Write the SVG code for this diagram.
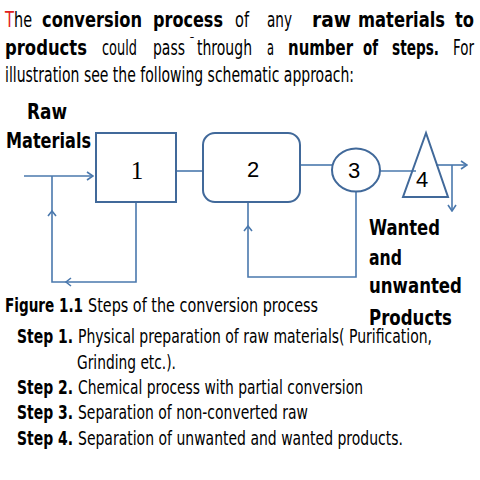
<svg xmlns="http://www.w3.org/2000/svg" width="480" height="480" viewBox="0 0 480 480">
<style>
text{font-family:"DejaVu Sans","Liberation Sans",sans-serif;fill:#000}
.t{font-size:21px}
.b{font-weight:bold}
.s{font-size:19.5px}
.lbl{font-size:21px;font-weight:bold}
.num{font-family:"Liberation Sans",sans-serif;font-size:22px;text-anchor:middle}
.shape{fill:none;stroke:#41699a;stroke-width:2}
.con{fill:none;stroke:#4a78ad;stroke-width:1.6}
</style>
<defs>
<marker id="ah" markerWidth="8" markerHeight="10" refX="7" refY="5" orient="auto" markerUnits="userSpaceOnUse">
<path d="M1,1 L7,5 L1,9" fill="none" stroke="#4a78ad" stroke-width="1.6"/>
</marker>
</defs>
<rect width="480" height="480" fill="#fff"/>

<!-- intro paragraph -->
<text class="t" x="5" y="27" fill="#e02020" style="fill:#e02020" textLength="9" lengthAdjust="spacingAndGlyphs">T</text>
<text class="t" x="14" y="27" textLength="18" lengthAdjust="spacingAndGlyphs">he</text>
<text class="t b" x="42" y="27" textLength="100" lengthAdjust="spacingAndGlyphs">conversion</text>
<text class="t b" x="153" y="27" textLength="70" lengthAdjust="spacingAndGlyphs">process</text>
<text class="t" x="235" y="27" textLength="14" lengthAdjust="spacingAndGlyphs">of</text>
<text class="t" x="267" y="27" textLength="25" lengthAdjust="spacingAndGlyphs">any</text>
<text class="t b" x="312" y="27" textLength="39" lengthAdjust="spacingAndGlyphs">raw</text>
<text class="t b" x="358" y="27" textLength="87" lengthAdjust="spacingAndGlyphs">materials</text>
<text class="t b" x="455" y="27" textLength="19" lengthAdjust="spacingAndGlyphs">to</text>

<text class="t b" x="5" y="55" textLength="82" lengthAdjust="spacingAndGlyphs">products</text>
<text class="t" x="102" y="55" textLength="35" lengthAdjust="spacingAndGlyphs">could</text>
<text class="t" x="153" y="55" textLength="32" lengthAdjust="spacingAndGlyphs">pass</text>
<text class="t" x="189" y="46" style="font-size:12px">¯</text>
<text class="t" x="197" y="55" textLength="55" lengthAdjust="spacingAndGlyphs">through</text>
<text class="t" x="267" y="55" textLength="7" lengthAdjust="spacingAndGlyphs">a</text>
<text class="t b" x="288" y="55" textLength="65" lengthAdjust="spacingAndGlyphs">number</text>
<text class="t b" x="363" y="55" textLength="15" lengthAdjust="spacingAndGlyphs">of</text>
<text class="t b" x="392" y="55" textLength="47" lengthAdjust="spacingAndGlyphs">steps.</text>
<text class="t" x="453" y="55" textLength="21" lengthAdjust="spacingAndGlyphs">For</text>

<text class="t" x="5" y="82" textLength="349" lengthAdjust="spacingAndGlyphs">illustration see the following schematic approach:</text>

<!-- labels -->
<text class="lbl" x="27" y="119" textLength="40" lengthAdjust="spacingAndGlyphs">Raw</text>
<text class="lbl" x="6" y="148" textLength="85" lengthAdjust="spacingAndGlyphs">Materials</text>
<text class="lbl" x="369" y="235" textLength="71" lengthAdjust="spacingAndGlyphs">Wanted</text>
<text class="lbl" x="369" y="265" textLength="33" lengthAdjust="spacingAndGlyphs">and</text>
<text class="lbl" x="369" y="293" textLength="93" lengthAdjust="spacingAndGlyphs">unwanted</text>
<text class="lbl" x="369" y="325" textLength="83" lengthAdjust="spacingAndGlyphs">Products</text>

<!-- connectors -->
<g id="connectors">
<line class="con" x1="24" y1="176" x2="93" y2="176" marker-end="url(#ah)"/>
<polyline class="con" points="136,202 136,282 52,282 52,176"/>
<path class="con" d="M71,278 L66,282 L71,286"/>
<path class="con" d="M48,216 L52,211 L56,216"/>
<line class="con" x1="176" y1="171" x2="203" y2="171"/>
<line class="con" x1="300" y1="165" x2="332" y2="165"/>
<polyline class="con" points="356,192 356,277 248,277 248,202"/>
<path class="con" d="M244,231 L248,226 L252,231"/>
<line class="con" x1="380" y1="171" x2="416" y2="171"/>
<line class="con" x1="436" y1="165" x2="467" y2="165" marker-end="url(#ah)"/>
<line class="con" x1="452" y1="165" x2="452" y2="211" marker-end="url(#ah)"/>
</g>

<!-- nodes -->
<g id="node1">
<rect class="shape" x="96" y="133" width="80" height="69"/>
<text class="num" x="137" y="179" style="font-family:'Liberation Serif',serif;font-size:25px">1</text>
</g>
<g id="node2">
<rect class="shape" x="203" y="133" width="97" height="69" rx="12" ry="12"/>
<text class="num" x="253" y="177">2</text>
</g>
<g id="node3">
<ellipse class="shape" cx="356" cy="170" rx="24" ry="21.5"/>
<text class="num" x="354" y="178">3</text>
</g>
<g id="node4">
<polygon class="shape" points="426,133 403,197 448,197"/>
<text class="num" x="422" y="187">4</text>
</g>

<!-- caption and steps -->
<text class="s b" x="5" y="312" textLength="78" lengthAdjust="spacingAndGlyphs">Figure 1.1</text>
<text class="s" x="88" y="312" textLength="230" lengthAdjust="spacingAndGlyphs">Steps of  the conversion process</text>

<text class="s b" x="17" y="343" textLength="56" lengthAdjust="spacingAndGlyphs">Step 1.</text>
<text class="s" x="78" y="343" textLength="354" lengthAdjust="spacingAndGlyphs">Physical preparation of raw materials( Purification,</text>
<text class="s" x="77" y="369" textLength="99" lengthAdjust="spacingAndGlyphs">Grinding etc.).</text>
<text class="s b" x="17" y="394" textLength="56" lengthAdjust="spacingAndGlyphs">Step 2.</text>
<text class="s" x="78" y="394" textLength="285" lengthAdjust="spacingAndGlyphs">Chemical process with partial conversion</text>
<text class="s b" x="17" y="419" textLength="56" lengthAdjust="spacingAndGlyphs">Step 3.</text>
<text class="s" x="78" y="419" textLength="230" lengthAdjust="spacingAndGlyphs">Separation of non-converted raw</text>
<text class="s b" x="17" y="445" textLength="56" lengthAdjust="spacingAndGlyphs">Step 4.</text>
<text class="s" x="78" y="445" textLength="325" lengthAdjust="spacingAndGlyphs">Separation of unwanted and wanted products.</text>
</svg>
